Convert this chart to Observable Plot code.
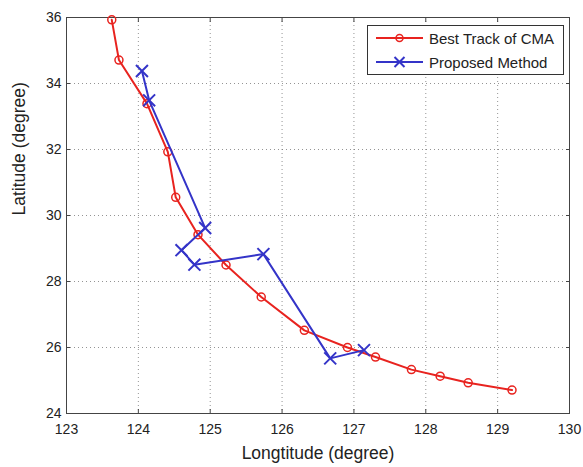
<!DOCTYPE html>
<html><head><meta charset="utf-8">
<script src="https://cdn.jsdelivr.net/npm/d3@7"></script>
<script src="https://cdn.jsdelivr.net/npm/@observablehq/plot@0.6"></script>
<style>
body{margin:0;background:#fff;}
#wrap{position:relative;width:583px;height:467px;font-family:"Liberation Sans",Arial,sans-serif;}
#legend{position:absolute;left:367px;top:25px;width:195px;height:48px;border:1px solid #333;background:#fff;font-size:15px;color:#222;}
.row{position:absolute;left:0;height:20px;display:flex;align-items:center;white-space:nowrap;}
.row svg{margin-left:8px;margin-right:6px;}
</style></head>
<body><div id="wrap"><div id="chart"></div>
<div id="legend">
<div class="row" style="top:2px"><svg width="47" height="14"><line x1="0" y1="7" x2="47" y2="7" stroke="#e8231f" stroke-width="2"/><circle cx="23.5" cy="7" r="3.5" fill="none" stroke="#e8231f" stroke-width="1.5"/></svg><span>Best Track of CMA</span></div>
<div class="row" style="top:26px"><svg width="47" height="14"><line x1="0" y1="7" x2="47" y2="7" stroke="#3434c8" stroke-width="2"/><path d="M18.5,2L28.5,12M28.5,2L18.5,12" stroke="#3434c8" stroke-width="2"/></svg><span>Proposed Method</span></div>
</div></div>
<script>
const bestLon = [123.63,123.73,124.12,124.41,124.52,124.83,125.22,125.71,126.31,126.91,127.30,127.80,128.20,128.59,129.20];
const bestLat = [35.93,34.71,33.39,31.93,30.55,29.42,28.50,27.53,26.52,26.00,25.71,25.33,25.13,24.93,24.71];
const propLon = [124.05,124.15,124.93,124.60,124.78,125.74,126.67,127.14];
const propLat = [34.38,33.49,29.62,28.95,28.51,28.83,25.67,25.92];
const xTicks = [123,124,125,126,127,128,129,130];
const yTicks = [24,26,28,30,32,34,36];

const best = bestLon.map((x,i)=>({x, y: bestLat[i]}));
const prop = propLon.map((x,i)=>({x, y: propLat[i]}));
const red = "#e8231f", blue = "#3434c8";

const chart = Plot.plot({
  width: 583, height: 467,
  marginLeft: 66, marginRight: 14, marginTop: 17, marginBottom: 54,
  style: {fontFamily: '"Liberation Sans", Arial, sans-serif', fontSize: "14px", color: "#222"},
  x: {domain: [123,130], ticks: xTicks, label: null},
  y: {domain: [24,36], ticks: yTicks, label: null},
  marks: [
    Plot.gridX(xTicks, {stroke: "#666", strokeOpacity: 0.7, strokeDasharray: "1,3"}),
    Plot.gridY(yTicks, {stroke: "#666", strokeOpacity: 0.7, strokeDasharray: "1,3"}),
    Plot.frame({stroke: "#444"}),
    Plot.axisX(xTicks, {tickSize: -4, tickPadding: 15, stroke: "#444", label: null, fontSize: 14}),
    Plot.axisX(xTicks, {anchor: "top", tickSize: -4, text: null, stroke: "#444", label: null}),
    Plot.axisY(yTicks, {tickSize: -4, tickPadding: 9, stroke: "#444", label: null, fontSize: 14}),
    Plot.axisY(yTicks, {anchor: "right", tickSize: -4, text: null, stroke: "#444", label: null}),
    Plot.line(best, {x: "x", y: "y", stroke: red, strokeWidth: 2}),
    Plot.dot(best, {x: "x", y: "y", r: 4, stroke: red, strokeWidth: 1.5, fill: "none"}),
    Plot.line(prop, {x: "x", y: "y", stroke: blue, strokeWidth: 2}),
    Plot.dot(prop, {x: "x", y: "y", r: 5.5, symbol: "times", stroke: blue, strokeWidth: 2}),
    Plot.text(["Longtitude (degree)"], {frameAnchor: "bottom", dy: 45, fontSize: 17.5, fill: "#222"}),
    Plot.text(["Latitude (degree)"], {frameAnchor: "left", dx: -47, rotate: -90, fontSize: 17.5, fill: "#222"})
  ]
});
document.getElementById("chart").appendChild(chart);
</script></body></html>
